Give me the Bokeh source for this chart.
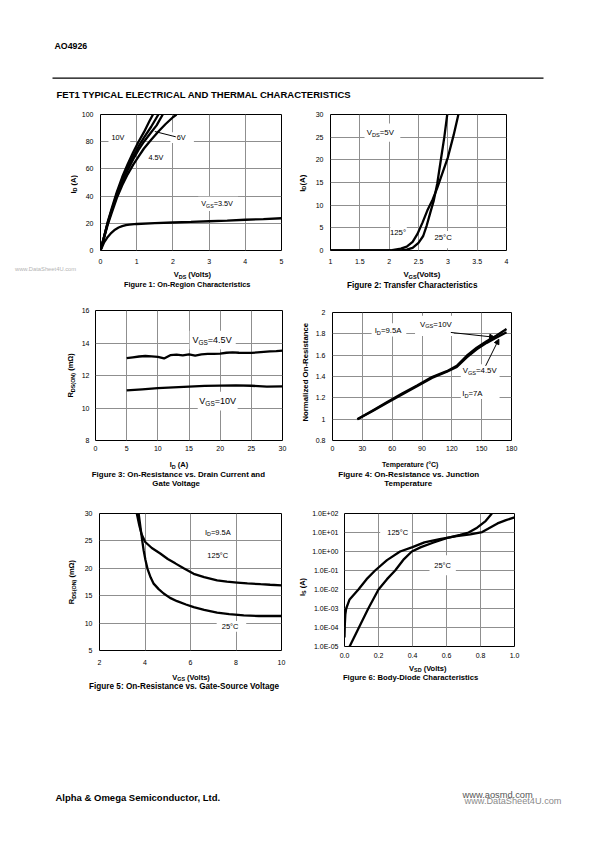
import math
from bokeh.plotting import figure
from bokeh.models import Range1d, FixedTicker, Label, BoxAnnotation, Arrow, NormalHead
from bokeh.layouts import column, row
from bokeh.embed import file_html
from bokeh.resources import INLINE

FONT = "Liberation Sans"
GRID = "#8f8f8f"
LW = 2.3

# ---------------- data ----------------
# Figure 1: On-region characteristics
f1_x_ticks = [0, 1, 2, 3, 4, 5]
f1_x_labels = ["0", "1", "2", "3", "4", "5"]
f1_y_ticks = [0, 20, 40, 60, 80, 100]
f1_y_labels = ["0", "20", "40", "60", "80", "100"]
f1_vds_10v = [0, 0.1, 0.2, 0.3, 0.45, 0.6, 0.75, 0.9, 1.05, 1.2, 1.35, 1.45]
f1_id_10v = [0, 10.5, 21, 30, 43, 54, 63.5, 72, 80, 87, 95, 100]
f1_vds_7v = [0, 0.1, 0.2, 0.3, 0.45, 0.6, 0.75, 0.9, 1.05, 1.2, 1.4, 1.6]
f1_id_7v = [0, 10, 20.5, 29, 41.5, 52, 61, 69, 76.5, 83, 91, 100]
f1_vds_6v = [0, 0.1, 0.2, 0.3, 0.45, 0.6, 0.75, 0.9, 1.05, 1.2, 1.4, 1.55, 1.72]
f1_id_6v = [0, 10, 20, 28.5, 40.5, 50.5, 59, 67, 74, 80, 87, 92, 100]
f1_vds_45v = [0, 0.1, 0.2, 0.3, 0.45, 0.6, 0.75, 0.9, 1.05, 1.2, 1.4, 1.6, 1.8, 2.0, 2.1]
f1_id_45v = [0, 9.5, 19, 27, 38.5, 48, 56, 63, 69, 75, 81.5, 87.5, 93, 98, 100]
f1_vds_35v = [0, 0.05, 0.1, 0.2, 0.3, 0.4, 0.5, 0.6, 0.7, 0.8, 1.0, 1.5, 2.0, 2.5, 3.0, 3.5, 4.0, 4.5, 5.0]
f1_id_35v = [0, 3, 6, 10, 13, 15.3, 16.9, 17.9, 18.6, 19.0, 19.5, 20.1, 20.6, 21.0, 21.5, 22.0, 22.6, 23.1, 23.7]

# Figure 2: Transfer characteristics
f2_x_ticks = [1, 1.5, 2, 2.5, 3, 3.5, 4]
f2_x_labels = ["1", "1.5", "2", "2.5", "3", "3.5", "4"]
f2_y_ticks = [0, 5, 10, 15, 20, 25, 30]
f2_y_labels = ["0", "5", "10", "15", "20", "25", "30"]
f2_vgs_25 = [1.0, 2.2, 2.3, 2.4, 2.5, 2.58, 2.64, 2.7, 2.76, 2.82, 2.88, 2.94, 2.99]
f2_id_25 = [0, 0, 0.2, 0.6, 1.7, 3.2, 5.5, 8.3, 11, 14.8, 19.9, 25, 30]
f2_vgs_125 = [1.0, 1.9, 2.05, 2.2, 2.3, 2.4, 2.48, 2.57, 2.65, 2.74, 2.82, 2.9, 3.0, 3.1, 3.18]
f2_id_125 = [0, 0, 0.1, 0.4, 0.85, 1.9, 3.6, 6.2, 8.8, 11.2, 13.8, 16.8, 20.5, 25.5, 30]

# Figure 3: On-resistance vs drain current
f3_x_ticks = [0, 5, 10, 15, 20, 25, 30]
f3_x_labels = ["0", "5", "10", "15", "20", "25", "30"]
f3_y_ticks = [8, 10, 12, 14, 16]
f3_y_labels = ["8", "10", "12", "14", "16"]
f3_id_45 = [5, 6, 7, 8, 9, 10, 11, 12, 13, 14, 15, 16, 17, 18, 19, 20, 21, 22, 23, 24, 25, 26, 27, 28, 29, 30]
f3_r_45 = [13.07, 13.12, 13.17, 13.2, 13.18, 13.15, 13.05, 13.25, 13.28, 13.24, 13.3, 13.22, 13.3, 13.33,
           13.33, 13.34, 13.4, 13.42, 13.4, 13.39, 13.39, 13.42, 13.45, 13.48, 13.5, 13.53]
f3_id_10 = [5, 7.5, 10, 12.5, 15, 17.5, 20, 22.5, 25, 27.5, 30]
f3_r_10 = [11.08, 11.15, 11.22, 11.27, 11.32, 11.36, 11.38, 11.39, 11.37, 11.32, 11.33]

# Figure 4: On-resistance vs junction temperature
f4_x_ticks = [0, 30, 60, 90, 120, 150, 180]
f4_x_labels = ["0", "30", "60", "90", "120", "150", "180"]
f4_y_ticks = [0.8, 1.0, 1.2, 1.4, 1.6, 1.8, 2.0]
f4_y_labels = ["0.8", "1", "1.2", "1.4", "1.6", "1.8", "2"]
f4_temp = [25, 40, 55, 70, 85, 100, 115, 125, 135, 145, 155, 165, 175]
f4_r_10v = [1.0, 1.08, 1.16, 1.24, 1.315, 1.395, 1.45, 1.5, 1.595, 1.67, 1.73, 1.785, 1.845]
f4_r_45v = [1.0, 1.075, 1.155, 1.232, 1.308, 1.387, 1.445, 1.49, 1.58, 1.655, 1.715, 1.765, 1.815]

# Figure 5: On-resistance vs gate-source voltage
f5_x_ticks = [2, 4, 6, 8, 10]
f5_x_labels = ["2", "4", "6", "8", "10"]
f5_y_ticks = [5, 10, 15, 20, 25, 30]
f5_y_labels = ["5", "10", "15", "20", "25", "30"]
f5_vgs_125 = [3.64, 3.75, 3.85, 4.01, 4.3, 4.67, 5.0, 5.33, 5.7, 6.14, 6.6, 7.17, 7.6, 8.05, 8.5, 9.08, 9.5, 10]
f5_r_125 = [30, 27.8, 26.2, 24.8, 23.7, 22.7, 21.7, 20.9, 20.0, 19.0, 18.4, 17.8, 17.55, 17.4, 17.25, 17.1, 17.0, 16.9]
f5_vgs_25 = [3.72, 3.8, 3.88, 3.94, 4.02, 4.11, 4.25, 4.38, 4.6, 4.82, 5.1, 5.41, 5.8, 6.14, 6.6, 7.17, 7.7, 8.34, 9.0, 10]
f5_r_25 = [30, 27.5, 25.0, 23.3, 21.5, 19.9, 18.3, 17.2, 16.2, 15.4, 14.6, 14.0, 13.4, 12.9, 12.4, 11.9, 11.65, 11.4, 11.3, 11.3]

# Figure 6: Body-diode characteristics
f6_x_ticks = [0.0, 0.2, 0.4, 0.6, 0.8, 1.0]
f6_x_labels = ["0.0", "0.2", "0.4", "0.6", "0.8", "1.0"]
f6_y_ticks = [1e-5, 1e-4, 1e-3, 1e-2, 1e-1, 1e0, 1e1, 1e2]
f6_y_labels = ["1.0E-05", "1.0E-04", "1.0E-03", "1.0E-02", "1.0E-01", "1.0E+00", "1.0E+01", "1.0E+02"]
f6_vsd_125 = [0.0, 0.002, 0.005, 0.01, 0.03, 0.082, 0.13, 0.18, 0.25, 0.327, 0.4, 0.47, 0.56, 0.66, 0.74, 0.81, 0.9, 0.95, 1.0]
f6_is_125 = [3e-5, 1.5e-4, 5e-4, 1e-3, 3e-3, 1e-2, 3.5e-2, 0.1, 0.35, 1.0, 1.7, 3.0, 4.5, 6.5, 8.0, 10.5, 30, 45, 62]
f6_vsd_25 = [0.03, 0.085, 0.14, 0.2, 0.25, 0.298, 0.35, 0.396, 0.45, 0.52, 0.6, 0.68, 0.73, 0.78, 0.83, 0.867]
f6_is_25 = [1e-5, 1e-4, 1e-3, 1e-2, 3.5e-2, 0.1, 0.4, 1.0, 1.7, 2.9, 5.0, 7.5, 10, 18, 40, 100]

# ---------------- text helpers ----------------
W_REG = {' ': 278, '(': 333, ')': 333, '+': 584, ',': 278, '-': 333, '.': 278, ':': 278, '=': 584,
         '°': 400, 'Ω': 768, '&': 667, 'I': 278, 'J': 500, 'M': 833, 'W': 944, 'L': 556, 'F': 611,
         'T': 611, 'Z': 611, 'C': 722, 'D': 722, 'H': 722, 'N': 722, 'R': 722, 'U': 722,
         'G': 778, 'O': 778, 'Q': 778, 'c': 500, 'f': 278, 'i': 222, 'j': 222, 'k': 500, 'l': 222,
         'm': 833, 'r': 333, 's': 500, 't': 278, 'v': 500, 'w': 722, 'x': 500, 'y': 500, 'z': 500}
W_BOLD = dict(W_REG)
W_BOLD.update({':': 333, '&': 722, 'b': 611, 'c': 556, 'd': 611, 'f': 333, 'g': 611, 'h': 611,
               'i': 278, 'j': 278, 'k': 556, 'l': 278, 'm': 889, 'n': 611, 'o': 611, 'p': 611,
               'q': 611, 'r': 389, 's': 556, 't': 333, 'u': 611, 'v': 556, 'w': 778, 'x': 556,
               'y': 556})


def text_width(s, size, bold):
    table = W_BOLD if bold else W_REG
    return sum(table.get(ch, 667 if ch.isupper() else 556) for ch in s) / 1000.0 * size


def rich(p, x, y, pieces, size, bold=False, align="center", angle=0.0, color="black"):
    """Text made of normal and subscript pieces, centred vertically on (x, y)."""
    sub_scale = 0.72
    widths = [text_width(t, size * sub_scale if sub else size, bold) for t, sub in pieces]
    total = sum(widths)
    acc = -total / 2 if align == "center" else (0.0 if align == "left" else -total)
    for (t, sub), w in zip(pieces, widths):
        s = size * sub_scale if sub else size
        lead = len(t) - len(t.lstrip(" "))
        shift = text_width(" " * lead, s, bold)
        drop = 0.28 * size if sub else 0.0
        if angle == 0:
            xo, yo = acc + shift, -drop
        else:
            xo, yo = drop, acc + shift
        p.add_layout(Label(x=x, y=y, x_offset=xo, y_offset=yo, text=t.strip(" "), text_font=FONT,
                           text_font_size=f"{s:.2f}px", text_font_style="bold" if bold else "normal",
                           text_align="left", text_baseline="middle", angle=angle,
                           text_color=color))
        acc += w


def white_box(p, l, r, b, t):
    p.add_layout(BoxAnnotation(left=l, right=r, bottom=b, top=t, fill_color="white", fill_alpha=1.0,
                               line_color=None, level="underlay"))


def chart(width, height, borders, xr, yr, xt, xl, yt, yl, y_log=False, xstand=8, ystand=6, tick_size=7):
    left, right, top, bottom = borders
    p = figure(width=width, height=height, x_range=Range1d(*xr), y_range=Range1d(*yr),
               y_axis_type="log" if y_log else "linear", output_backend="svg", toolbar_location=None,
               min_border_left=left, min_border_right=right, min_border_top=top,
               min_border_bottom=bottom, frame_align=False)
    p.outline_line_color = "black"
    p.outline_line_width = 1
    p.border_fill_color = "white"
    p.background_fill_color = "white"
    p.xaxis.ticker = FixedTicker(ticks=xt)
    p.yaxis.ticker = FixedTicker(ticks=yt)
    p.xaxis.major_label_overrides = {k: v for k, v in zip(xt, xl)}
    p.yaxis.major_label_overrides = {k: v for k, v in zip(yt, yl)}
    p.xgrid.ticker = FixedTicker(ticks=xt)
    p.ygrid.ticker = FixedTicker(ticks=yt)
    p.grid.grid_line_color = GRID
    p.grid.grid_line_width = 1
    for ax in (p.xaxis, p.yaxis):
        ax.major_tick_out = 0
        ax.major_tick_in = 0
        ax.minor_tick_out = 0
        ax.minor_tick_in = 0
        ax.axis_line_color = None
        ax.major_label_text_font = FONT
        ax.major_label_text_font_size = f"{tick_size}px"
        ax.major_label_text_color = "black"
    p.xaxis.major_label_standoff = int(xstand)
    p.yaxis.major_label_standoff = int(ystand)
    return p


def strip(x0, y0, w, h):
    """Blank panel whose data coordinates are page pixels (y downwards)."""
    p = figure(width=w, height=h, x_range=Range1d(x0, x0 + w), y_range=Range1d(y0 + h, y0),
               x_axis_type=None, y_axis_type=None, output_backend="svg", toolbar_location=None,
               min_border=0, outline_line_color=None, frame_align=False)
    p.grid.visible = False
    p.border_fill_color = "white"
    p.background_fill_color = "white"
    return p


# ---------------- Figure 1 ----------------
p1 = chart(218, 168, (22, 15, 14, 18), (0, 5), (0, 100), f1_x_ticks, f1_x_labels, f1_y_ticks, f1_y_labels,
           xstand=8, ystand=7)
white_box(p1, 0.22, 0.82, 79, 87)
white_box(p1, 1.93, 2.58, 79, 87)
white_box(p1, 2.7, 3.8, 29, 39.5)
for xs, ys in ((f1_vds_10v, f1_id_10v), (f1_vds_7v, f1_id_7v), (f1_vds_6v, f1_id_6v),
               (f1_vds_45v, f1_id_45v), (f1_vds_35v, f1_id_35v)):
    p1.line(xs, ys, line_color="black", line_width=LW)
p1.add_layout(Arrow(end=None, x_start=2.08, y_start=83.6, x_end=1.5, y_end=87.5, line_width=1,
                    line_color="black"))
rich(p1, 0.48, 82.9, [("10V", 0)], 7.3)
rich(p1, 2.23, 83.3, [("6V", 0)], 7.3)
rich(p1, 1.53, 68.6, [("4.5V", 0)], 7.3)
rich(p1, 3.22, 34.3, [("V", 0), ("GS", 1), ("=3.5V", 0)], 7.3)
l1 = strip(0, 100, 78, 200)
rich(l1, 72.7, 184, [("I", 0), ("D", 1), (" (A)", 0)], 7.5, bold=True, angle=math.pi / 2)
rich(l1, 76, 268, [("www.DataSheet4U.com", 0)], 5.8, align="right", color="#b4b4b4")
b1 = strip(78, 268, 218, 32)
rich(b1, 192.2, 274, [("V", 0), ("DS", 1), (" (Volts)", 0)], 7.5, bold=True)
rich(b1, 186.8, 283.5, [("Figure 1: On-Region Characteristics", 0)], 7.4, bold=True)

# ---------------- Figure 2 ----------------
p2 = chart(275, 168, (17, 81, 14, 18), (1, 4), (0, 30), f2_x_ticks, f2_x_labels, f2_y_ticks, f2_y_labels,
           xstand=8, ystand=7)
white_box(p2, 1.58, 2.19, 24, 28)
white_box(p2, 2.02, 2.3, 3.0, 5.3)
white_box(p2, 2.76, 3.08, 0.5, 4.3)
p2.line(f2_vgs_25, f2_id_25, line_color="black", line_width=LW)
p2.line(f2_vgs_125, f2_id_125, line_color="black", line_width=LW)
rich(p2, 1.85, 26.0, [("V", 0), ("DS", 1), ("=5V", 0)], 7.8)
rich(p2, 2.15, 4.0, [("125°", 0)], 7.8)
rich(p2, 2.92, 2.9, [("25°C", 0)], 7.8)
l2 = strip(296, 100, 16, 200)
rich(l2, 301.7, 183, [("I", 0), ("D", 1), ("(A)", 0)], 7.8, bold=True, angle=math.pi / 2)
b2 = strip(312, 268, 275, 32)
rich(b2, 421.7, 274.3, [("V", 0), ("GS", 1), ("(Volts)", 0)], 7.8, bold=True)
rich(b2, 412, 285, [("Figure 2: Transfer Characteristics", 0)], 8.2, bold=True)

# ---------------- Figure 3 ----------------
p3 = chart(218, 155, (16, 14, 10, 15), (0, 30), (8, 16), f3_x_ticks, f3_x_labels, f3_y_ticks, f3_y_labels,
           xstand=5, ystand=6)
white_box(p3, 15.1, 22.5, 13.62, 14.75)
white_box(p3, 16.4, 22.8, 9.85, 11.0)
p3.line(f3_id_45, f3_r_45, line_color="black", line_width=LW)
p3.line(f3_id_10, f3_r_10, line_color="black", line_width=LW)
rich(p3, 18.7, 14.2, [("V", 0), ("GS", 1), ("=4.5V", 0)], 9.0)
rich(p3, 19.6, 10.42, [("V", 0), ("GS", 1), ("=10V", 0)], 9.0)
l3 = strip(0, 300, 78, 195)
rich(l3, 70, 375, [("R", 0), ("DS(ON)", 1), (" (mΩ)", 0)], 7.5, bold=True, angle=math.pi / 2)
b3 = strip(78, 455, 218, 40)
rich(b3, 178.3, 464, [("I", 0), ("D", 1), (" (A)", 0)], 7.5, bold=True)
rich(b3, 178, 474.3, [("Figure 3: On-Resistance vs. Drain Current and", 0)], 7.9, bold=True)
rich(b3, 176, 482.7, [("Gate Voltage", 0)], 7.9, bold=True)

# ---------------- Figure 4 ----------------
p4 = chart(275, 155, (19, 76, 12, 15), (0, 180), (0.8, 2.0), f4_x_ticks, f4_x_labels, f4_y_ticks, f4_y_labels,
           xstand=5, ystand=7)
white_box(p4, 39.3, 74.2, 1.775, 1.9)
white_box(p4, 83, 122, 1.78, 1.97)
white_box(p4, 129, 168, 1.19, 1.515)
p4.line(f4_temp, f4_r_10v, line_color="black", line_width=LW)
p4.line(f4_temp, f4_r_45v, line_color="black", line_width=LW)
p4.add_layout(Arrow(end=NormalHead(size=5, fill_color="black", line_color="black"),
                    x_start=119, y_start=1.813, x_end=163, y_end=1.768, line_width=1, line_color="black"))
p4.add_layout(Arrow(end=NormalHead(size=5, fill_color="black", line_color="black"),
                    x_start=154, y_start=1.50, x_end=167.3, y_end=1.75, line_width=1, line_color="black"))
rich(p4, 55.9, 1.83, [("I", 0), ("D", 1), ("=9.5A", 0)], 7.8)
rich(p4, 104, 1.89, [("V", 0), ("GS", 1), ("=10V", 0)], 7.8)
rich(p4, 148, 1.455, [("V", 0), ("GS", 1), ("=4.5V", 0)], 7.8)
rich(p4, 140.7, 1.236, [("I", 0), ("D", 1), ("=7A", 0)], 7.8)
l4 = strip(296, 300, 16, 195)
rich(l4, 305, 371.7, [("Normalized On-Resistance", 0)], 7.8, bold=True, angle=math.pi / 2)
b4 = strip(312, 455, 275, 40)
rich(b4, 410, 464, [("Temperature (°C)", 0)], 7.0, bold=True)
rich(b4, 408, 474, [("Figure 4: On-Resistance vs. Junction", 0)], 8.0, bold=True)
rich(b4, 408, 482.5, [("Temperature", 0)], 8.0, bold=True)

# ---------------- Figure 5 ----------------
p5 = chart(216, 174, (19, 15, 18, 19), (2, 10), (5, 30), f5_x_ticks, f5_x_labels, f5_y_ticks, f5_y_labels,
           xstand=9, ystand=7)
white_box(p5, 7.15, 8.45, 8.4, 10.4)
p5.line(f5_vgs_125, f5_r_125, line_color="black", line_width=LW)
p5.line(f5_vgs_25, f5_r_25, line_color="black", line_width=LW)
rich(p5, 7.2, 26.6, [("I", 0), ("D", 1), ("=9.5A", 0)], 7.5)
rich(p5, 7.2, 22.4, [("125°C", 0)], 7.5)
rich(p5, 7.74, 9.4, [("25°C", 0)], 7.5)
l5 = strip(0, 495, 80, 205)
rich(l5, 71, 581.7, [("R", 0), ("DS(ON)", 1), (" (mΩ)", 0)], 7.5, bold=True, angle=math.pi / 2)
b5 = strip(80, 669, 216, 31)
rich(b5, 190.8, 676.7, [("V", 0), ("GS", 1), (" (Volts)", 0)], 7.5, bold=True)
rich(b5, 184, 686, [("Figure 5: On-Resistance vs. Gate-Source Voltage", 0)], 8.2, bold=True)

# ---------------- Figure 6 ----------------
p6 = chart(279, 167, (36, 73, 18, 16), (0, 1), (1e-5, 1e2), f6_x_ticks, f6_x_labels, f6_y_ticks, f6_y_labels,
           y_log=True, xstand=6, ystand=6)
white_box(p6, 0.21, 0.396, 6.3, 15.8)
white_box(p6, 0.5, 0.655, 0.056, 0.63)
p6.line(f6_vsd_125, f6_is_125, line_color="black", line_width=LW)
p6.line(f6_vsd_25, f6_is_25, line_color="black", line_width=LW)
rich(p6, 0.313, 9.8, [("125°C", 0)], 7.5)
rich(p6, 0.577, 0.19, [("25°C", 0)], 7.5)
l6 = strip(296, 495, 12, 205)
rich(l6, 301.5, 586.7, [("I", 0), ("S", 1), (" (A)", 0)], 7.5, bold=True, angle=math.pi / 2)
b6 = strip(308, 662, 279, 38)
rich(b6, 427.5, 667.5, [("V", 0), ("SD", 1), (" (Volts)", 0)], 7.5, bold=True)
rich(b6, 410, 676.5, [("Figure 6: Body-Diode Characteristics", 0)], 7.7, bold=True)

# ---------------- header / footer ----------------
head = strip(0, 0, 587, 100)
rich(head, 54, 45, [("AO4926", 0)], 8.8, bold=True, align="left")
head.segment(x0=[52], y0=[77.6], x1=[543], y1=[77.6], line_color="black", line_width=1.3)
rich(head, 56, 93.5, [("FET1 TYPICAL ELECTRICAL AND THERMAL CHARACTERISTICS", 0)], 9.5, bold=True, align="left")

foot = strip(0, 700, 587, 126)
rich(foot, 55, 797, [("Alpha & Omega Semiconductor, Ltd.", 0)], 9.5, bold=True, align="left")
rich(foot, 462, 794, [("www.aosmd.com", 0)], 9.3, align="left", color="#555555")
rich(foot, 464, 800.5, [("www.DataSheet4U.com", 0)], 9.2, align="left", color="#8a8a8a")

row1 = row(l1, column(p1, b1), l2, column(p2, b2))
row2 = row(l3, column(p3, b3), l4, column(p4, b4))
row3 = row(l5, column(p5, b5), l6, column(p6, b6))
layout = column(head, row1, row2, row3, foot)

with open("out.html", "w") as f:
    f.write(file_html(layout, INLINE))
